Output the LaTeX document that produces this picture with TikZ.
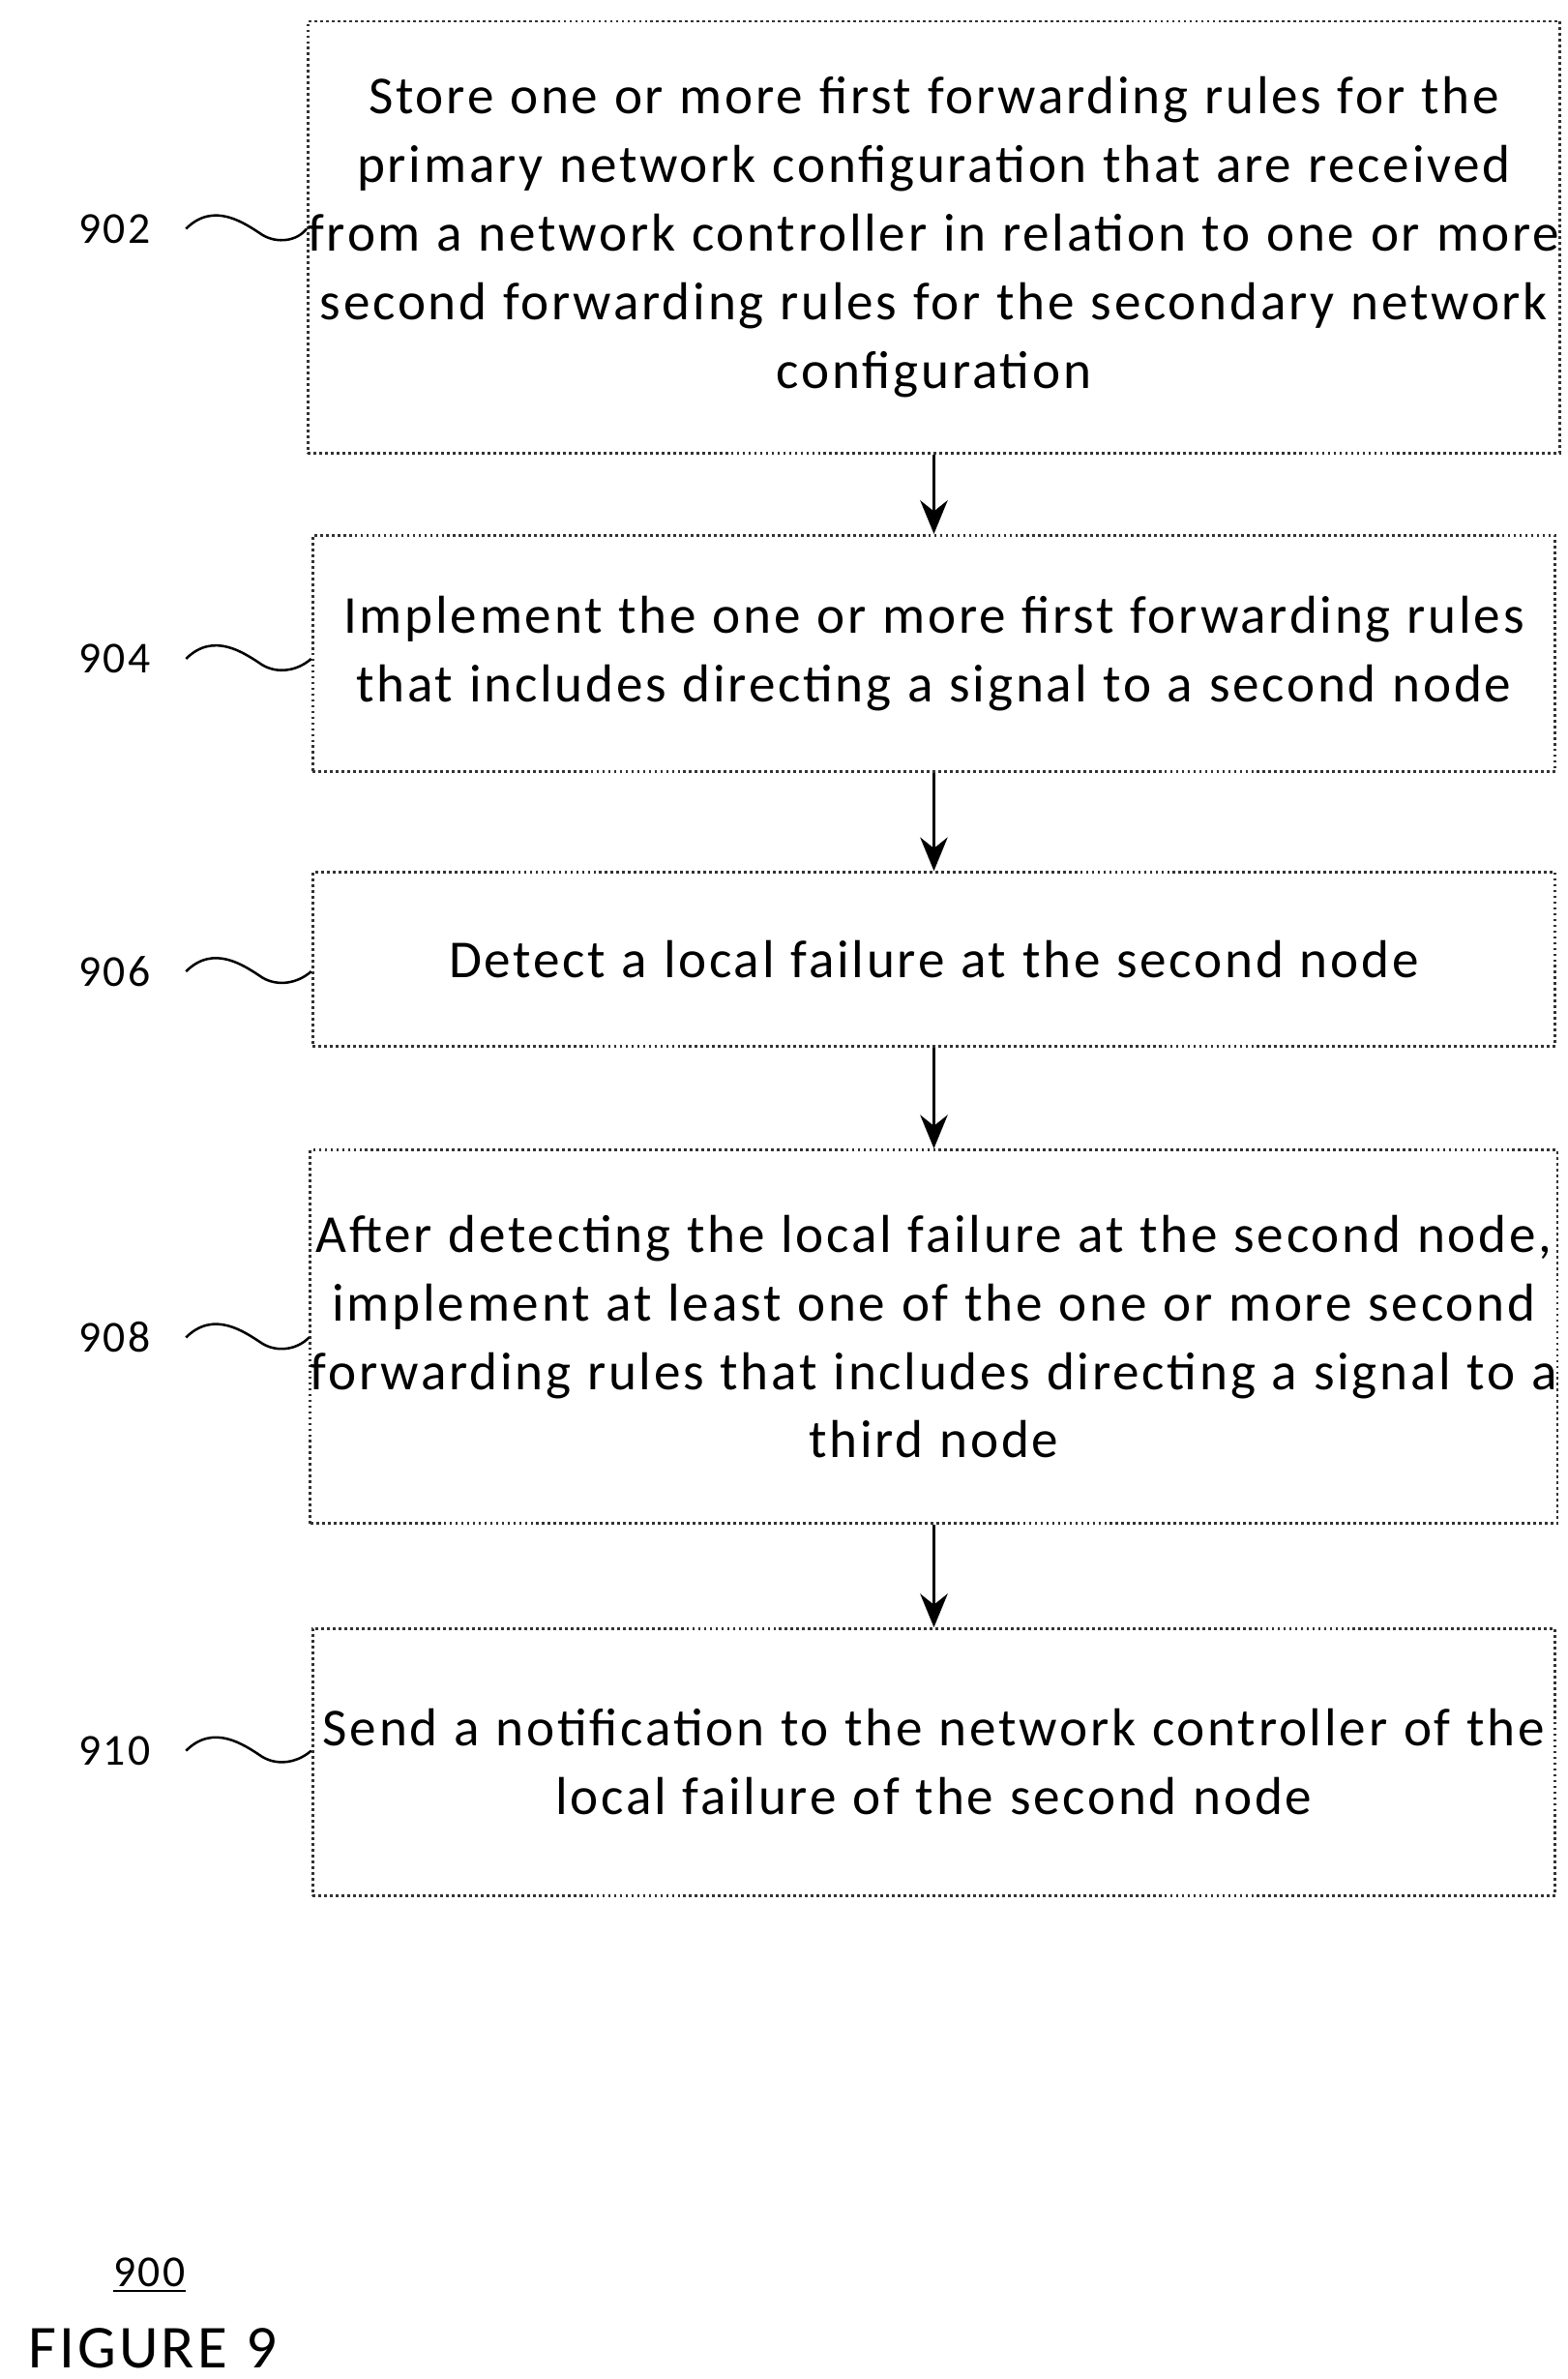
\documentclass[tikz,border=0pt]{standalone}
\usepackage{fontspec}
\setmainfont{Carlito}[LetterSpace=5,WordSpace={1.1}]
\usetikzlibrary{arrows.meta}
\begin{document}
\begin{tikzpicture}[x=0.5pt,y=-0.5pt,
  box/.style={draw=black!80,line width=0.9pt,densely dotted,minimum width=407.5pt,align=center,font=\fontsize{17.5}{22.5}\selectfont,inner sep=0pt},
  lab/.style={font=\fontsize{14.5}{16}\selectfont},
  arr/.style={-{Stealth[length=11pt,width=9pt]},line width=1pt},
  sq/.style={line width=0.8pt}]
\useasboundingbox (0,0) rectangle (1028,1560);
\node[box,minimum height=141.5pt] (b902) at (612.5,155.5) {Store one or more first forwarding rules for the\\primary network configuration that are received\\from a network controller in relation to one or more\\second forwarding rules for the secondary network\\configuration};
\node[box,minimum height=77.5pt] (b904) at (612.5,428.5) {Implement the one or more first forwarding rules\\that includes directing a signal to a second node};
\node[box,minimum height=57pt] (b906) at (612.5,629) {Detect a local failure at the second node};
\node[box,minimum height=122.5pt] (b908) at (612.5,876.5) {After detecting the local failure at the second node,\\implement at least one of the one or more second\\forwarding rules that includes directing a signal to a\\third node};
\node[box,minimum height=87.5pt] (b910) at (612.5,1155.5) {Send a notification to the network controller of the\\local failure of the second node};
\draw[arr] (b902) -- (b904);
\draw[arr] (b904) -- (b906);
\draw[arr] (b906) -- (b908);
\draw[arr] (b908) -- (b910);
\foreach \n/\y in {902/150,904/432,906/637,908/877,910/1148}{
  \node[lab] (l\n) at (75,\y) {\n};
  \coordinate (s\n) at (122,\y);
  \draw[sq] (s\n) .. controls (140,\y-18) and (160,\y-4) .. (172,\y+4) .. controls (182,\y+10) and (195,\y+8) .. (b\n.west |- 0,\y);
}
\node[lab] (n900) at (98,1492) {\underline{900}};
\node[font=\fontsize{20}{22}\selectfont] (fig) at (100,1540) {FIGURE 9};
\end{tikzpicture}
\end{document}
